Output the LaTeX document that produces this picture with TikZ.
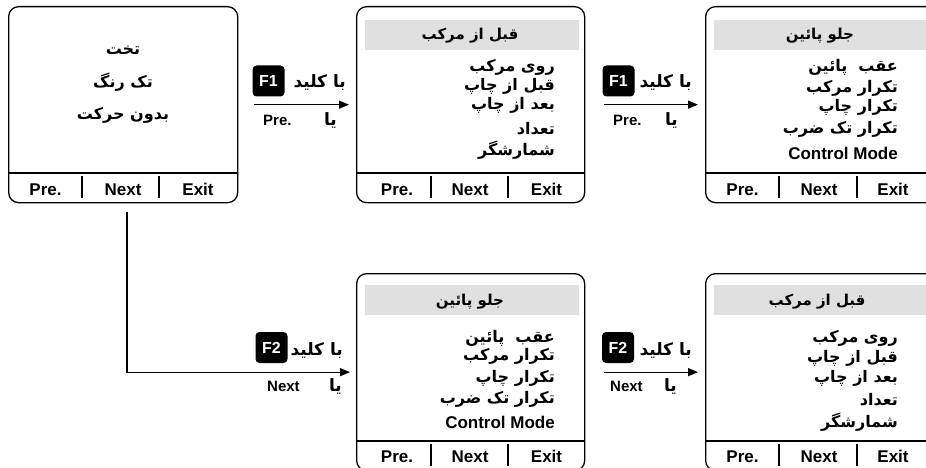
\documentclass[tikz,border=0pt]{standalone}
\usepackage{fontspec}
\setmainfont{Liberation Sans}
\newfontfamily\arabicfont[Script=Arabic]{DejaVu Sans}
\TeXXeTstate=1
\newcommand\rltxt[1]{\hbox{\beginR #1\endR}}
\usetikzlibrary{arrows.meta}
\begin{document}
\begin{tikzpicture}[x=1pt,y=-1pt,
  scr/.style={draw, line width=1.3pt, rounded corners=10pt, inner sep=0pt, anchor=north west},
  hdr/.style={fill=black!12},
  ln/.style={line width=1.1pt},
  sepln/.style={line width=1.1pt},
  ft/.style={font=\fontsize{17}{17}\selectfont\bfseries, anchor=base, inner sep=0pt},
  fa/.style={font=\fontsize{16}{18}\selectfont\arabicfont\bfseries, inner sep=0pt},
  itm/.style={fa, anchor=base east},
  captxt/.style={fa, anchor=base},
  hdtxt/.style={font=\fontsize{15}{17}\selectfont\arabicfont\bfseries, inner sep=0pt, anchor=base},
  lbl/.style={font=\fontsize{15}{15}\selectfont\bfseries, anchor=base west, inner sep=0pt},
  lblfa/.style={font=\fontsize{17}{18}\selectfont\arabicfont\bfseries, anchor=base east, inner sep=0pt},
  keybox/.style={fill=black, rounded corners=4pt, minimum width=32pt, minimum height=31pt, inner sep=0pt, text=white, font=\fontsize{16}{16}\selectfont\bfseries},
  arr/.style={line width=1.3pt, -{Triangle[length=10pt,width=8pt]}}
]
\useasboundingbox (0,0) rectangle (926,468);
\clip (0,0) rectangle (926,468);

% ---------- screen frames ----------
\node[scr, minimum width=229pt, minimum height=196pt] (b1) at (8,6) {};
\node[scr, minimum width=228pt, minimum height=196pt] (b2) at (356,6) {};
\node[scr, minimum width=232pt, minimum height=196pt] (b3) at (705,6) {};
\node[scr, minimum width=228pt, minimum height=197pt] (b4) at (356,273) {};
\node[scr, minimum width=232pt, minimum height=197pt] (b5) at (705,273) {};

% ---------- headers ----------
\fill[hdr] (365,20) rectangle (579,50);
\fill[hdr] (714,20) rectangle (940,50);
\fill[hdr] (365,285) rectangle (579,315);
\fill[hdr] (714,285) rectangle (940,315);

% ---------- footers ----------
\draw[ln] (8,173) -- (237,173);
\draw[ln] (356,173) -- (584,173);
\draw[ln] (705,173) -- (937,173);
\draw[ln] (356,441) -- (584,441);
\draw[ln] (705,441) -- (937,441);
\foreach \x in {82,159,431,508,779,857} {\draw[sepln] (\x,176) -- (\x,198);}
\foreach \x in {431,508,779,857} {\draw[sepln] (\x,444) -- (\x,466);}

\node[ft] (f1a) at (45.5,195) {Pre.};
\node[ft] (f1b) at (123,195) {Next};
\node[ft] (f1c) at (198,195) {Exit};
\node[ft] (f2a) at (397,195) {Pre.};
\node[ft] (f2b) at (470,195) {Next};
\node[ft] (f2c) at (546.5,195) {Exit};
\node[ft] (f3a) at (742.5,195) {Pre.};
\node[ft] (f3b) at (819,195) {Next};
\node[ft] (f3c) at (893,195) {Exit};
\node[ft] (f4a) at (397,462) {Pre.};
\node[ft] (f4b) at (470,462) {Next};
\node[ft] (f4c) at (546.5,462) {Exit};
\node[ft] (f5a) at (742.5,462) {Pre.};
\node[ft] (f5b) at (819,462) {Next};
\node[ft] (f5c) at (893,462) {Exit};

% ---------- box 1 ----------
\node[captxt] (c1) at (123,55) {\rltxt{تخت}};
\node[captxt] (c2) at (123,88) {\rltxt{تک رنگ}};
\node[captxt] (c3) at (123,120) {\rltxt{بدون حرکت}};

% ---------- box 2 ----------
\node[hdtxt] (h2) at (470,40) {\rltxt{قبل از مرکب}};
\node[itm] (i21) at (555,72) {\rltxt{روی مرکب}};
\node[itm] (i22) at (555,91) {\rltxt{قبل از چاپ}};
\node[itm] (i23) at (555,110) {\rltxt{بعد از چاپ}};
\node[itm] (i24) at (555,135) {\rltxt{تعداد}};
\node[itm] (i25) at (555,155) {\rltxt{شمارشگر}};

% ---------- box 3 ----------
\node[hdtxt] (h3) at (820,40) {\rltxt{جلو پائین}};
\node[itm] (i31) at (898,72) {\rltxt{عقب\ \ پائین}};
\node[itm] (i32) at (898,93) {\rltxt{تکرار مرکب}};
\node[itm] (i33) at (898,112) {\rltxt{تکرار چاپ}};
\node[itm] (i34) at (898,134) {\rltxt{تکرار تک ضرب}};
\node[ft, anchor=base east] (i35) at (898,160) {Control Mode};

% ---------- box 4 ----------
\node[hdtxt] (h4) at (470,305) {\rltxt{جلو پائین}};
\node[itm] (i41) at (555,342) {\rltxt{عقب\ \ پائین}};
\node[itm] (i42) at (555,360) {\rltxt{تکرار مرکب}};
\node[itm] (i43) at (555,382) {\rltxt{تکرار چاپ}};
\node[itm] (i44) at (555,403) {\rltxt{تکرار تک ضرب}};
\node[ft, anchor=base east] (i45) at (555,428) {Control Mode};

% ---------- box 5 ----------
\node[hdtxt] (h5) at (817,305) {\rltxt{قبل از مرکب}};
\node[itm] (i51) at (898,342) {\rltxt{روی مرکب}};
\node[itm] (i52) at (898,362) {\rltxt{قبل از چاپ}};
\node[itm] (i53) at (898,382) {\rltxt{بعد از چاپ}};
\node[itm] (i54) at (898,405) {\rltxt{تعداد}};
\node[itm] (i55) at (898,427) {\rltxt{شمارشگر}};

% ---------- connectors ----------
\draw[arr] ([xshift=16pt]b1.east) -- ([xshift=-7pt]b2.west);
\draw[arr] ([xshift=19pt]b2.east) -- ([xshift=-7pt]b3.west);
\draw[arr] ([xshift=19pt]b4.east) -- ([xshift=-7pt]b5.west);
\coordinate (s) at (127,212);
\draw[arr] (s) |- ([xshift=-6pt]b4.west);

% ---------- arrow labels ----------
\node[keybox] (k1) at (268.5,81) {F1};
\node[keybox] (k2) at (618.5,81) {F1};
\node[keybox] (k3) at (271.5,347.5) {F2};
\node[keybox] (k4) at (618,347.5) {F2};

\node[lblfa] (a1) at (346,88) {\rltxt{با کلید}};
\node[lblfa] (a2) at (692,88) {\rltxt{با کلید}};
\node[lblfa] (a3) at (343,355) {\rltxt{با کلید}};
\node[lblfa] (a4) at (692,355) {\rltxt{با کلید}};

\node[lblfa] (y1) at (337,125) {\rltxt{یا}};
\node[lblfa] (y2) at (678,125) {\rltxt{یا}};
\node[lblfa] (y3) at (342,391) {\rltxt{یا}};
\node[lblfa] (y4) at (677,391) {\rltxt{یا}};

\node[lbl] (p1) at (263,125) {Pre.};
\node[lbl] (p2) at (613,125) {Pre.};
\node[lbl] (n3) at (267,391) {Next};
\node[lbl] (n4) at (610,391) {Next};
\end{tikzpicture}
\end{document}
